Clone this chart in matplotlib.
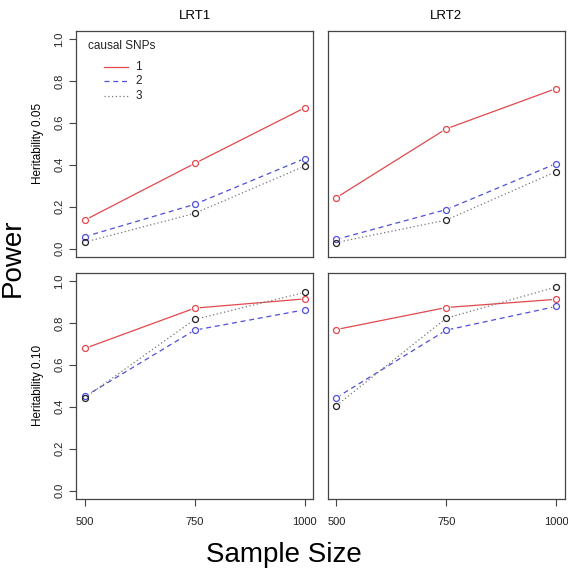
import matplotlib
matplotlib.use("Agg")
import matplotlib.pyplot as plt

plt.rcParams['font.family'] = ['Liberation Sans', 'DejaVu Sans']

sample_size = [500, 750, 1000]
tests = ['LRT1', 'LRT2']
heritability = ['Heritability 0.05', 'Heritability 0.10']
snp_labels = ['1', '2', '3']

# power[heritability][test][n causal SNPs]
power = {
    'Heritability 0.05': {
        'LRT1': [[0.136, 0.406, 0.671], [0.057, 0.211, 0.429], [0.031, 0.168, 0.393]],
        'LRT2': [[0.243, 0.571, 0.763], [0.044, 0.186, 0.405], [0.029, 0.136, 0.367]],
    },
    'Heritability 0.10': {
        'LRT1': [[0.678, 0.870, 0.914], [0.449, 0.765, 0.862], [0.443, 0.816, 0.945]],
        'LRT2': [[0.768, 0.873, 0.912], [0.443, 0.765, 0.878], [0.405, 0.822, 0.971]],
    },
}

line_col = ['#E2484C', '#4F4FDB', '#777777']
pt_col = ['#E2484C', '#4F4FDB', '#222222']
styles = ['-', (0, (4, 3)), (0, (1, 2))]

fig = plt.figure(figsize=(5.68, 5.71), dpi=100)
W, H = 568.0, 571.0
lefts = [76 / W, 327.5 / W]
width = 237.3 / W
bottoms = [1 - 257 / H, 1 - 499 / H]
height = 226.5 / H

for r, h in enumerate(heritability):
    for c, t in enumerate(tests):
        ax = fig.add_axes([lefts[c], bottoms[r], width, height])
        for k in range(3):
            ax.plot(sample_size, power[h][t][k], color=line_col[k], linestyle=styles[k],
                    linewidth=0.9, zorder=1)
            # gap around the points, like R's type="b"
            ax.plot(sample_size, power[h][t][k], linestyle='none', marker='o',
                    markersize=6.5, markerfacecolor='white', markeredgecolor='none',
                    zorder=2)
        for k in range(3):
            ax.plot(sample_size, power[h][t][k], linestyle='none', marker='o',
                    markersize=4.3, markerfacecolor='none', markeredgecolor=pt_col[k],
                    markeredgewidth=0.9, zorder=3)
        ax.set_xlim(480, 1020)
        ax.set_ylim(-0.04, 1.04)
        for s in ax.spines.values():
            s.set_color('#444444')
            s.set_linewidth(0.9)
        ax.tick_params(length=5, width=0.8, color='#444444', labelsize=8,
                       labelcolor='#222222')
        if c == 0:
            ax.set_yticks([0, 0.2, 0.4, 0.6, 0.8, 1.0])
            ax.set_yticklabels(['0.0', '0.2', '0.4', '0.6', '0.8', '1.0'],
                               rotation=90, va='center')
            ax.set_ylabel(h, fontsize=8.5, labelpad=7)
        else:
            ax.set_yticks([])
        if r == 1:
            ax.set_xticks(sample_size)
            ax.set_xticklabels([str(v) for v in sample_size])
            ax.tick_params(axis='x', pad=8)
        else:
            ax.set_xticks([])
        if r == 0:
            ax.set_title(t, fontsize=9.5, pad=8)
        if r == 0 and c == 0:
            # legend drawn by hand: title flush left, keys indented
            ax.text(0.05, 0.93, 'causal SNPs', transform=ax.transAxes, fontsize=8.5,
                    ha='left', va='center', color='#222222')
            key_y = [0.841, 0.779, 0.713]
            for k in range(3):
                ax.plot([0.118, 0.219], [key_y[k], key_y[k]], transform=ax.transAxes,
                        color=line_col[k], linestyle=styles[k], linewidth=0.9)
                ax.text(0.25, key_y[k], snp_labels[k], transform=ax.transAxes,
                        fontsize=8.5, ha='left', va='center', color='#222222')

fig.text(0.5, 0.028, 'Sample Size', ha='center', va='center', fontsize=20)
fig.text(0.022, 0.548, 'Power', ha='center', va='center', fontsize=20, rotation=90)

fig.savefig('out.png', dpi=100)
